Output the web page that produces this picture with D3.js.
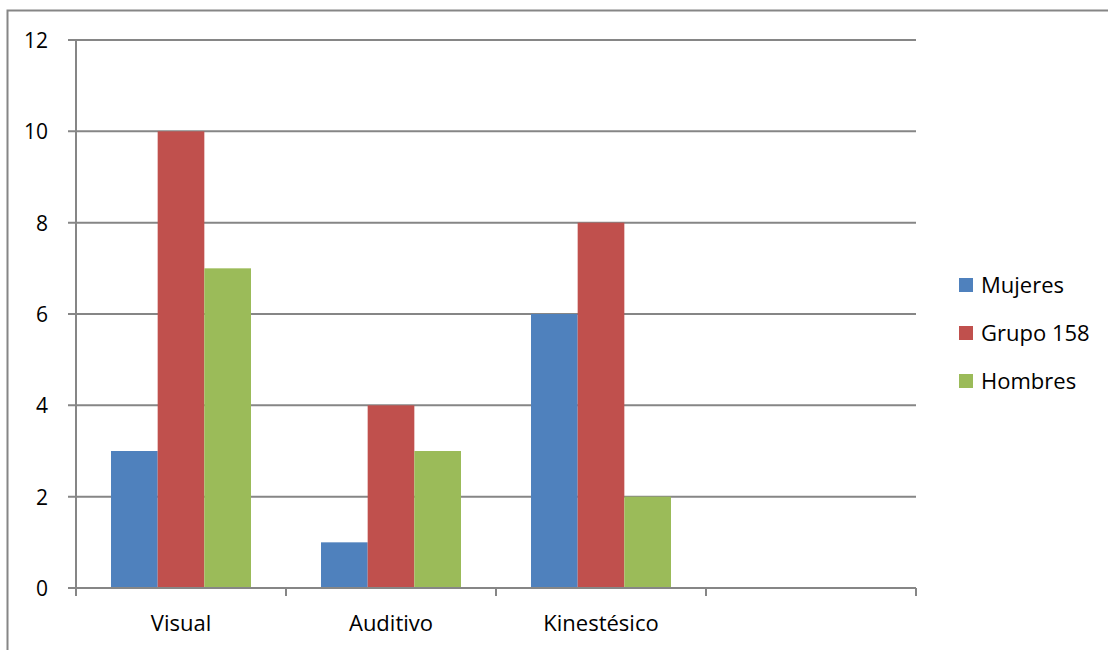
<!DOCTYPE html>
<html>
<head>
<meta charset="utf-8">
<script src="https://cdn.jsdelivr.net/npm/d3@7"></script>
<style>
  body { margin: 0; background: #fff; }
  text { font-family: "Open Sans", sans-serif; fill: #000; }
</style>
</head>
<body>
<div id="chart"></div>
<script>
// data
var categories = ["Visual", "Auditivo", "Kinestésico", ""]
var seriesNames = ["Mujeres", "Grupo 158", "Hombres"]
var mujeres = [3, 1, 6, null]
var grupo158 = [10, 4, 8, null]
var hombres = [7, 3, 2, null]
var yTicks = [0, 2, 4, 6, 8, 10, 12]
var colors = ["#4F81BD", "#C0504D", "#9BBB59"]

var W = 1108, H = 650
var margin = {left: 76, right: 192, top: 40, bottom: 62}
var gridColor = "#868686"

var svg = d3.select("#chart").append("svg")
    .attr("width", W).attr("height", H)

// outer frame (right and bottom run off the picture)
svg.append("rect")
    .attr("x", 7.5).attr("y", 10.5)
    .attr("width", W + 20).attr("height", H + 20)
    .attr("fill", "none").attr("stroke", gridColor).attr("stroke-width", 2)

var x0 = d3.scaleBand().domain(d3.range(categories.length))
    .range([margin.left, W - margin.right])
var x1 = d3.scaleBand().domain(seriesNames)
    .range([0, x0.bandwidth()]).paddingOuter(0.75)
var y = d3.scaleLinear().domain([0, 12]).range([H - margin.bottom, margin.top])

var g = svg.append("g")

// gridlines
g.selectAll(".grid").data(yTicks.slice(1)).enter().append("line")
    .attr("x1", margin.left - 8).attr("x2", W - margin.right)
    .attr("y1", d => y(d)).attr("y2", d => y(d))
    .attr("stroke", gridColor).attr("stroke-width", 2)

// bars
var series = [mujeres, grupo158, hombres]
series.forEach(function (vals, s) {
  var pts = vals.map((v, i) => ({i: i, v: v})).filter(d => d.v != null)
  g.selectAll(".bar" + s).data(pts).enter().append("rect")
      .attr("x", d => x0(d.i) + x1(seriesNames[s]))
      .attr("y", d => y(d.v))
      .attr("width", x1.bandwidth())
      .attr("height", d => y(0) - y(d.v))
      .attr("fill", colors[s])
})

// axes
g.append("line")
    .attr("x1", margin.left).attr("x2", margin.left)
    .attr("y1", y(12)).attr("y2", y(0))
    .attr("stroke", gridColor).attr("stroke-width", 2)
g.append("line")
    .attr("x1", margin.left - 8).attr("x2", W - margin.right)
    .attr("y1", y(0)).attr("y2", y(0))
    .attr("stroke", gridColor).attr("stroke-width", 2)

g.selectAll(".ylab").data(yTicks).enter().append("text")
    .attr("x", 48).attr("y", d => y(d) + 8)
    .attr("text-anchor", "end")
    .style("font-size", "21px")
    .text(d => d)

// x ticks at band edges
var edges = categories.map((d, i) => x0(i)).concat([W - margin.right])
g.selectAll(".xtick").data(edges).enter().append("line")
    .attr("x1", d => d).attr("x2", d => d)
    .attr("y1", y(0)).attr("y2", y(0) + 8)
    .attr("stroke", gridColor).attr("stroke-width", 2)

g.selectAll(".xlab").data(categories).enter().append("text")
    .attr("x", (d, i) => x0(i) + x0.bandwidth() / 2)
    .attr("y", 631)
    .attr("text-anchor", "middle")
    .style("font-size", "22px")
    .text(d => d)

// legend
var leg = svg.append("g")
seriesNames.forEach(function (name, i) {
  var ly = 285 + i * 48
  leg.append("rect")
    .attr("x", 959).attr("y", ly - 7)
    .attr("width", 14).attr("height", 14)
    .attr("fill", colors[i])
  leg.append("text")
    .attr("x", 981).attr("y", ly + 8)
    .style("font-size", "22px")
    .text(name)
})
</script>
</body>
</html>
